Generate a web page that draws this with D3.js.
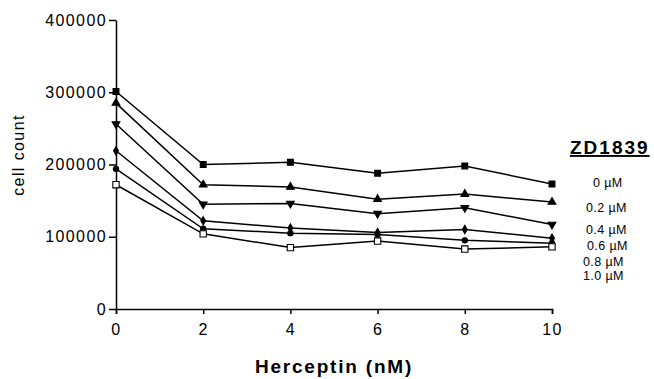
<!DOCTYPE html>
<html>
<head>
<meta charset="utf-8">
<script src="https://cdn.jsdelivr.net/npm/d3@7"></script>
<style>
  body { margin: 0; background: #fff; }
  svg { display: block; font-family: Arial, "Liberation Sans", sans-serif; }
  .axis path, .axis line { stroke: #000; stroke-width: 1.5; }
  .axis text { font-size: 16px; letter-spacing: 1.4px; fill: #000; }
</style>
</head>
<body>
<svg width="654" height="379"></svg>
<script>
// Herceptin dose (nM)
const doses = [0, 2, 4, 6, 8, 10];

// cell counts per ZD1839 concentration
const zd0 = [301000, 200000, 203000, 188000, 198000, 173000];
const zd02 = [285000, 172000, 169000, 152000, 159000, 148000];
const zd04 = [256000, 145000, 146000, 132000, 140000, 117000];
const zd06 = [219000, 122000, 112000, 106000, 110000, 98000];
const zd08 = [194000, 111000, 105000, 103000, 95000, 91000];
const zd10 = [172000, 104000, 85000, 94000, 83000, 86000];

const seriesLabels = ["0 \u00b5M", "0.2 \u00b5M", "0.4 \u00b5M", "0.6 \u00b5M", "0.8 \u00b5M", "1.0 \u00b5M"];
const yTicks = [0, 100000, 200000, 300000, 400000];
const xTicks = [0, 2, 4, 6, 8, 10];

const series = [zd0, zd02, zd04, zd06, zd08, zd10];

// marker style per series
const markers = [
  { type: d3.symbolSquare, size: 34, rot: 0, fill: "#000" },
  { type: d3.symbolTriangle, size: 26, rot: 0, fill: "#000" },
  { type: d3.symbolTriangle, size: 26, rot: 180, fill: "#000" },
  { type: d3.symbolDiamond, size: 20, rot: 0, fill: "#000" },
  { type: d3.symbolCircle, size: 22, rot: 0, fill: "#000" },
  { type: d3.symbolSquare, size: 40, rot: 0, fill: "#fff" }
];
// legend baselines (layout)
const legendX = [593, 586, 586, 587, 583, 583];
const legendY = [187, 212, 234, 250, 266, 280];

const svg = d3.select("svg");
const margin = { left: 116, top: 20 };
const width = 552 - 116, height = 309 - 20;

const g = svg.append("g")
  .attr("transform", "translate(" + margin.left + "," + margin.top + ")");

const x = d3.scaleLinear().domain([0, 10]).range([0, width]);
const y = d3.scaleLinear().domain([0, 400000]).range([height, 0]);

g.append("g")
  .attr("class", "axis")
  .attr("transform", "translate(0," + height + ")")
  .call(d3.axisBottom(x).tickValues(xTicks).tickSize(5).tickSizeOuter(5).tickPadding(6))
  .call(a => a.selectAll("text").attr("dy", "0.95em"));

g.append("g")
  .attr("class", "axis")
  .call(d3.axisLeft(y).tickValues(yTicks).tickFormat(d3.format("d")).tickSize(7).tickSizeOuter(0).tickPadding(2));

const line = d3.line()
  .x((d, i) => x(doses[i]))
  .y(d => y(d));

series.forEach((vals, k) => {
  g.append("path")
    .datum(vals)
    .attr("fill", "none")
    .attr("stroke", "#000")
    .attr("stroke-width", 1.5)
    .attr("d", line);
});

series.forEach((vals, k) => {
  const m = markers[k];
  g.selectAll(".pt-" + k)
    .data(vals)
    .enter()
    .append("path")
    .attr("class", "pt-" + k)
    .attr("d", d3.symbol().type(m.type).size(m.size))
    .attr("transform", (d, i) => "translate(" + x(doses[i]) + "," + y(d) + ") rotate(" + m.rot + ")")
    .attr("fill", m.fill)
    .attr("stroke", "#000")
    .attr("stroke-width", 1.1);
});

// axis titles
svg.append("text")
  .attr("transform", "translate(24,155) rotate(-90)")
  .attr("text-anchor", "middle")
  .style("font-size", "16px")
  .style("letter-spacing", "1.4px")
  .text("cell count");

svg.append("text")
  .attr("x", 334)
  .attr("y", 373)
  .attr("text-anchor", "middle")
  .style("font-size", "19px")
  .style("font-weight", "bold")
  .style("letter-spacing", "1.8px")
  .text("Herceptin (nM)");

// legend
svg.append("text")
  .attr("x", 570)
  .attr("y", 154)
  .style("font-size", "19px")
  .style("font-weight", "bold")
  .style("letter-spacing", "2px")
  .style("text-decoration", "underline")
  .text("ZD1839");

svg.selectAll(".legendItem")
  .data(seriesLabels)
  .enter()
  .append("text")
  .attr("class", "legendItem")
  .attr("x", (d, i) => legendX[i])
  .attr("y", (d, i) => legendY[i])
  .style("font-size", "12.5px")
  .style("letter-spacing", "0.4px")
  .text(d => d);
</script>
</body>
</html>
